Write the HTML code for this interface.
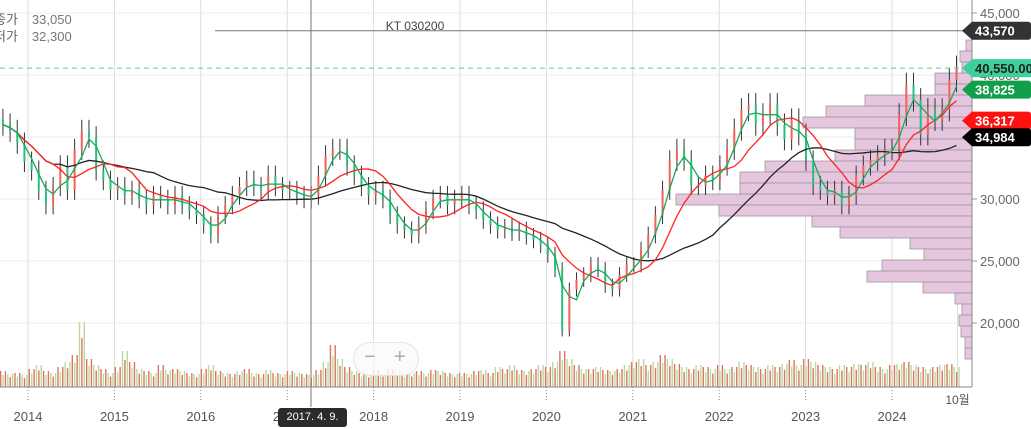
<!DOCTYPE html>
<html><head><meta charset="utf-8">
<style>
html,body{margin:0;padding:0;background:#fff;}
body{width:1031px;height:429px;overflow:hidden;position:relative;font-family:"Liberation Sans","Noto Sans CJK KR",sans-serif;}
svg{position:absolute;left:0;top:0;}
.info{position:absolute;left:-6px;font-size:13px;color:#666;}
.info b{font-weight:normal;margin-left:14px;color:#777;}
.zoomctl{position:absolute;left:353px;top:342px;width:64px;height:32px;border:1px solid #e3e3e3;border-radius:17px;background:rgba(250,250,250,0.8);color:#aaa;font-size:20px;}
.zoomctl span{position:absolute;top:3px;}
.datebox{position:absolute;left:278px;top:408px;width:69px;height:19px;background:#2b2b2b;border-radius:3px;color:#fff;font-size:11px;text-align:center;line-height:19px;}
</style></head>
<body>
<svg id="chart" width="1031" height="429"></svg>
<div class="info" style="top:9px">종가<b>33,050</b></div>
<div class="info" style="top:26px">저가<b>32,300</b></div>
<div class="zoomctl">
  <span style="left:10px">−</span>
  <span style="left:40px">+</span>
</div>
<div class="datebox">2017. 4. 9.</div>
<script>
const years = ["2014","2015","2016","2017","2018","2019","2020","2021","2022","2023","2024"];
const priceTicks = [45000,40000,35000,30000,25000,20000];
const priceTickLabels = ["45,000","40,000","35,000","30,000","25,000","20,000"];
// monthly closes from Sep 2013 to Oct 2024
const closes = [36000,35500,34500,33000,
32300,30700,29500,31000,32700,30700,34000,35500,35000,32300,31500,30700,
31000,30300,30700,30000,29500,30300,30000,29500,30300,29500,29100,28700,
27900,27100,28700,29500,30300,31000,31500,31000,30700,31900,31000,30700,
30700,30300,30000,30300,31900,33500,34000,34000,32700,31900,31000,30300,
30700,30000,28700,27900,27500,27100,27900,29100,30000,30300,29500,30000,
30300,29500,29100,28300,27900,27500,27700,27300,27500,27000,26700,26300,
25500,24300,19400,22700,23500,23900,24700,24300,23000,22700,23900,24700,
24700,25900,27100,28700,30700,33100,34000,33100,31100,31100,31900,31500,
32700,34000,35600,37200,37600,36000,36800,37600,36000,34800,36400,35200,
33100,31100,30700,30300,30700,29500,30300,31900,32700,33100,33500,34000,
34000,36800,39200,38000,35200,37200,36400,37200,39600,40550];
const volumes = [16,13,14,12,
18,22,16,14,20,25,32,65,28,22,18,14,
20,36,25,18,16,14,22,17,18,16,14,13,
18,22,16,14,13,16,18,14,13,17,14,13,
16,14,13,12,17,25,42,28,20,16,14,13,
17,14,18,16,13,14,16,14,17,16,14,13,
14,13,16,17,14,20,18,22,17,16,18,22,
20,25,36,28,22,18,18,20,17,16,18,22,
25,28,22,25,32,28,23,20,18,22,20,18,
22,18,20,25,22,20,18,22,20,23,27,22,
28,25,22,20,18,22,20,23,22,25,20,18,
22,23,25,22,20,18,20,22,23,20];
// volume profile (right side), bins from top
const profileTop = 42820, profileStep = 887;
const profile = [6,12,10,37,37,107,146,169,117,117,137,207,232,232,296,253,160,132,62,48,90,105,49,17,10,13,11,7,7];
const maLabels = [["43,570","#333"],["40,550.00","#3ecf9a"],["38,825","#139e4c"],["36,317","#f11"],["34,984","#000"]];
const maLabelPrices = [43570,40550,38825,36317,34984];

const NS="http://www.w3.org/2000/svg";
const svg=document.getElementById('chart');
function el(t,a){const e=document.createElementNS(NS,t);for(const k in a)e.setAttribute(k,a[k]);svg.appendChild(e);return e;}
const yP=p=>13+(45000-p)/5000*62;
const xM=i=>28+(i-4)*7.17+3.6;
const xYear=k=>28+k*86.4;
const AX=972, BASE=387;

priceTicks.forEach((p,k)=>{
  const g=el('line',{x1:0,x2:AX,y1:yP(p),y2:yP(p),stroke:'#ececec','stroke-width':1});
  
  
  const t=el('text',{x:AX+8,y:yP(p)+5,'font-size':13,fill:'#666'});
  t.textContent=priceTickLabels[k];
  
  
  const tk=el('line',{x1:AX,x2:AX+5,y1:yP(p),y2:yP(p),stroke:'#999'});
  
  
});
years.forEach((y,k)=>{
  const x=xYear(k);
  const g=el('line',{x1:x,x2:x,y1:0,y2:BASE,stroke:'#ddd'});
  
  
  const d=el('line',{x1:x,x2:x,y1:BASE,y2:400,stroke:'#888','stroke-dasharray':'1,2'});
  
  
  const t=el('text',{x:x,y:421,'font-size':13,fill:'#555','text-anchor':'middle'});
  t.textContent=y;
  
  
});
{const x=xM(closes.length-1)+1;
 const g=el('line',{x1:x,x2:x,y1:0,y2:BASE,stroke:'#ddd'});
 
 
 const t=el('text',{x:x,y:404,'font-size':12,fill:'#555','text-anchor':'middle'});t.textContent='10월';
 
 }

profile.forEach((w,k)=>{
  const y0=yP(profileTop-k*profileStep), y1=yP(profileTop-(k+1)*profileStep);
  const r=el('rect',{x:AX-w,y:y0,width:w,height:y1-y0,fill:'#e6c5df',stroke:'#999','stroke-width':0.8});
  
  
});

volumes.forEach((v,i)=>{
  const x=xM(i);
  for(let j=0;j<3;j++){
    const up=(i+j)%2===0;
    const h=v*(j===1?0.75:1);
    const r=el('rect',{x:x-3+j*2.4,y:BASE-h,width:1.4,height:h,fill:up?'#d9785f':'#bcd9a3'});
    
    
  }
});

closes.forEach((c,i)=>{
  const o=i?closes[i-1]:c*1.01;
  const x=xM(i), up=c>=o;
  const hi=Math.max(o,c)*1.025, lo=Math.min(o,c)*0.975;
  const w=el('line',{x1:x,x2:x,y1:yP(hi),y2:yP(lo),stroke:'#333','stroke-width':1});
  
  
  const b=el('rect',{x:x-1,y:yP(Math.max(o,c)),width:2,height:Math.max(1,Math.abs(yP(o)-yP(c))),fill:up?'#f0625a':'#2bbf7e'});
  
  
});

function ma(n){return closes.map((_,i)=>{const s=closes.slice(Math.max(0,i-n+1),i+1);return s.reduce((a,b)=>a+b,0)/s.length;});}
[[22,'#222','ma-long'],[8,'#f22','ma-mid'],[3,'#1aa860','ma-short']].forEach(([n,col,name])=>{
  const m=ma(n);
  const p=el('polyline',{points:m.map((v,i)=>xM(i)+','+yP(v)).join(' '),fill:'none',stroke:col,'stroke-width':1.3});
  
  
});

{const l=el('line',{x1:311,x2:311,y1:0,y2:BASE+20,stroke:'#777'});
 
 
 const h=el('line',{x1:215,x2:AX,y1:yP(43570),y2:yP(43570),stroke:'#777'});
 
 
 const d=el('line',{x1:0,x2:AX,y1:yP(40550),y2:yP(40550),stroke:'#5bc9a0','stroke-dasharray':'5,4'});
 
 
 const t=el('text',{x:415,y:30,'font-size':12,fill:'#444','text-anchor':'middle'});
 t.textContent='KT 030200';
 
 
 const ax=el('line',{x1:AX,x2:AX,y1:0,y2:BASE,stroke:'#888'});
 
 
 const bx=el('line',{x1:0,x2:AX,y1:BASE,y2:BASE,stroke:'#888'});
 
 }

maLabelPrices.forEach((p,k)=>{
  const y=yP(p), [txt,col]=maLabels[k];
  const w=k===1?70:56;
  const g=el('path',{d:`M${AX-10},${y} L${AX},${y-9} L${AX+w},${y-9} Q${AX+w+3},${y-9} ${AX+w+3},${y-6} L${AX+w+3},${y+6} Q${AX+w+3},${y+9} ${AX+w},${y+9} L${AX},${y+9} Z`,fill:col});
  
  
  const t=el('text',{x:AX+3,y:y+5,'font-size':13,'font-weight':'bold',fill:k===1?'#222':'#fff'});
  t.textContent=txt;
  
  
});
</script>
</body></html>
